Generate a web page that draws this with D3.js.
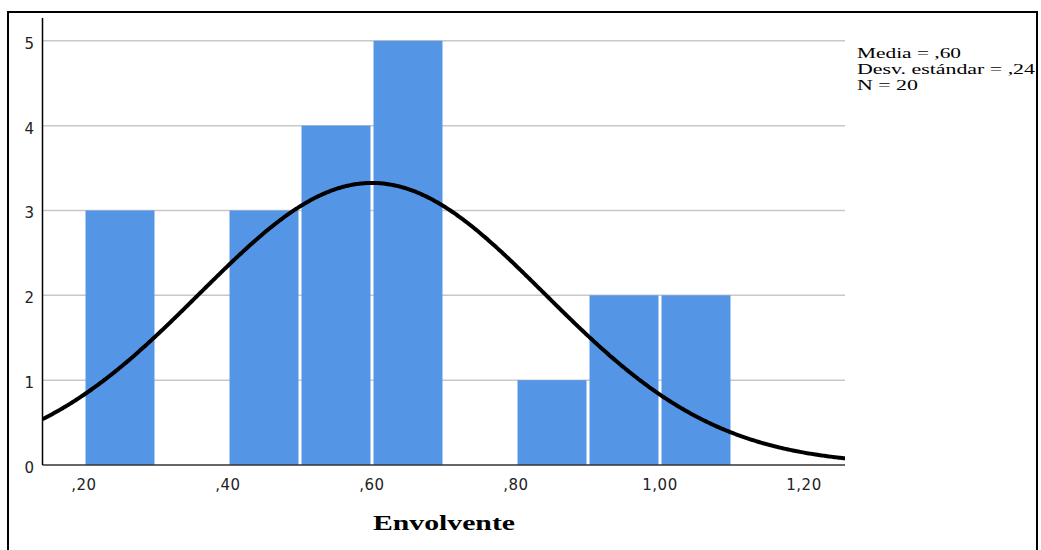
<!DOCTYPE html>
<html>
<head>
<meta charset="utf-8">
<script src="https://cdn.jsdelivr.net/npm/d3@7"></script>
<style>
  body { margin: 0; background: #fff; }
</style>
</head>
<body>
<div id="chart"></div>
<script>
// Histogram data (bin starts, width .10)
const binStarts = [0.2, 0.3, 0.4, 0.5, 0.6, 0.7, 0.8, 0.9, 1.0];
const counts = [3, 0, 3, 4, 5, 0, 1, 2, 2];
const binWidth = 0.1;
const xTicks = [0.2, 0.4, 0.6, 0.8, 1.0, 1.2];
const yTicks = [0, 1, 2, 3, 4, 5];
const stats = { mean: 0.60, sd: 0.24, n: 20 };
const legendLines = ["Media = ,60", "Desv. estándar = ,24", "N = 20"];
const legendWidths = [104, 178, 61];

const width = 1041, height = 550;
const svg = d3.select("#chart").append("svg")
    .attr("width", width)
    .attr("height", height);

// outer frame
svg.append("rect")
    .attr("x", 8).attr("y", 12)
    .attr("width", 1029).attr("height", 560)
    .attr("fill", "none")
    .attr("stroke", "#000")
    .attr("stroke-width", 2);

const plotLeft = 42.5, plotRight = 845, plotTop = 18, plotBottom = 465;

const x = d3.scaleLinear().domain([0.2, 1.2]).range([84, 804]);
const y = d3.scaleLinear().domain([0, 5]).range([plotBottom, 40.8]);

// gridlines
svg.append("g")
    .selectAll("line")
    .data(yTicks.filter(d => d > 0))
    .join("line")
    .attr("x1", plotLeft).attr("x2", plotRight)
    .attr("y1", d => y(d)).attr("y2", d => y(d))
    .attr("stroke", "#c8c8c8")
    .attr("stroke-width", 1.5);

// bars
svg.append("g")
    .selectAll("rect")
    .data(binStarts.map((b, i) => ({ x0: b, x1: b + binWidth, c: counts[i] })).filter(d => d.c > 0))
    .join("rect")
    .attr("x", d => x(d.x0) + 1.5)
    .attr("width", d => x(d.x1) - x(d.x0) - 3)
    .attr("y", d => y(d.c))
    .attr("height", d => y(0) - y(d.c))
    .attr("fill", "#5495e5");

// x axis line
svg.append("line")
    .attr("x1", plotLeft).attr("x2", plotRight)
    .attr("y1", plotBottom).attr("y2", plotBottom)
    .attr("stroke", "#333")
    .attr("stroke-width", 1.5);

// y axis line
svg.append("line")
    .attr("x1", plotLeft).attr("x2", plotLeft)
    .attr("y1", plotTop).attr("y2", plotBottom)
    .attr("stroke", "#000")
    .attr("stroke-width", 1.5);

// normal curve
svg.append("clipPath").attr("id", "plot-clip")
    .append("rect")
    .attr("x", plotLeft).attr("y", plotTop)
    .attr("width", plotRight - plotLeft).attr("height", plotBottom - plotTop);

const pdfScale = stats.n * binWidth / (stats.sd * Math.sqrt(2 * Math.PI));
const xs = d3.range(x.invert(plotLeft), x.invert(plotRight) + 0.002, 0.002);
const line = d3.line()
    .x(d => x(d))
    .y(d => y(pdfScale * Math.exp(-0.5 * Math.pow((d - stats.mean) / stats.sd, 2))))
    .curve(d3.curveBasis);

svg.append("path")
    .datum(xs)
    .attr("clip-path", "url(#plot-clip)")
    .attr("d", line)
    .attr("fill", "none")
    .attr("stroke", "#000")
    .attr("stroke-width", 4);

// tick labels
svg.append("g")
    .selectAll("text")
    .data(yTicks)
    .join("text")
    .attr("x", 34)
    .attr("y", d => y(d) + 8)
    .attr("text-anchor", "end")
    .attr("font-family", "DejaVu Sans")
    .attr("font-size", 15)
    .attr("fill", "#222")
    .text(d => d);

svg.append("g")
    .selectAll("text")
    .data(xTicks)
    .join("text")
    .attr("x", d => x(d))
    .attr("y", 490)
    .attr("text-anchor", "middle")
    .attr("font-family", "DejaVu Sans")
    .attr("font-size", 15)
    .attr("letter-spacing", 0.5)
    .attr("fill", "#222")
    .text(d => d3.format(".2f")(d).replace(".", ",").replace(/^0/, ""));

// axis title
svg.append("text")
    .attr("x", 444)
    .attr("y", 530)
    .attr("text-anchor", "middle")
    .attr("font-family", "Liberation Serif")
    .attr("font-weight", "bold")
    .attr("font-size", 21)
    .attr("textLength", 142)
    .attr("lengthAdjust", "spacingAndGlyphs")
    .text("Envolvente");

// stats legend
svg.append("g")
    .selectAll("text")
    .data(legendLines)
    .join("text")
    .attr("x", 857)
    .attr("y", (d, i) => 57.5 + i * 16)
    .attr("font-family", "Liberation Serif")
    .attr("font-size", 15)
    .attr("textLength", (d, i) => legendWidths[i])
    .attr("lengthAdjust", "spacingAndGlyphs")
    .text(d => d);
</script>
</body>
</html>
